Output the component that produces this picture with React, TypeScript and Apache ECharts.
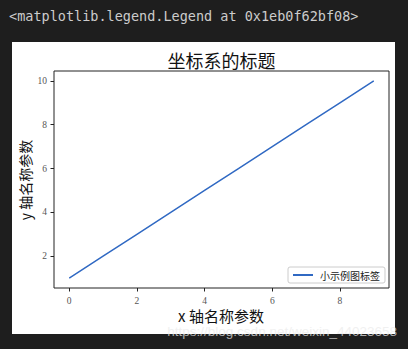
import React, { useEffect, useRef } from "react";
import * as echarts from "echarts";

// Series data: a straight line from (0, 1) to (9, 10)
const xValues = [0, 1, 2, 3, 4, 5, 6, 7, 8, 9];
const yValues = [1, 2, 3, 4, 5, 6, 7, 8, 9, 10];
const xTicks = [0, 2, 4, 6, 8];
const yTicks = [2, 4, 6, 8, 10];

const seriesName = "小示例图标签";
const titleText = "坐标系的标题";
const xName = "x 轴名称参数";
const yName = "y 轴名称参数";
const headerText = "<matplotlib.legend.Legend at 0x1eb0f62bf08>";
const watermark = "https://blog.csdn.net/weixin_44023658";

const CJK = '"Noto Sans CJK SC", "Noto Sans", sans-serif';
const SERIF = '"Liberation Serif", "DejaVu Serif", serif';

export default function App() {
  const ref = useRef<HTMLDivElement>(null);

  useEffect(() => {
    if (!ref.current) return;
    const chart = echarts.init(ref.current, null, { renderer: "svg" });

    const axisCommon = {
      type: "value" as const,
      axisLine: { show: false, onZero: false },
      splitLine: { show: false },
      axisTick: {
        show: true,
        inside: false,
        length: 3.5,
        lineStyle: { color: "#222", width: 1 },
      },
      axisLabel: {
        color: "#555",
        fontFamily: SERIF,
        fontSize: 9.5,
      },
    };

    chart.setOption({
      animation: false,
      backgroundColor: "#1e1e1e",
      graphic: [
        {
          type: "rect",
          shape: { x: 12, y: 42, width: 383, height: 292 },
          style: { fill: "#ffffff" },
          z: -10,
        },
        {
          type: "text",
          left: 9,
          top: 9,
          style: {
            text: headerText,
            fill: "#cccccc",
            font: '13.5px "DejaVu Sans Mono", monospace',
          },
        },
        {
          type: "text",
          x: 221.5,
          y: 60,
          style: {
            text: titleText,
            fill: "#111",
            font: `18px ${CJK}`,
            align: "center",
            verticalAlign: "middle",
          },
        },
        {
          type: "text",
          x: 221,
          y: 315,
          style: {
            text: xName,
            fill: "#111",
            font: `15px ${CJK}`,
            align: "center",
            verticalAlign: "middle",
          },
        },
        {
          type: "text",
          x: 25,
          y: 180,
          rotation: Math.PI / 2,
          style: {
            text: yName,
            fill: "#111",
            font: `14px ${CJK}`,
            align: "center",
            verticalAlign: "middle",
          },
        },
        {
          type: "text",
          x: 397,
          y: 331,
          z: 50,
          style: {
            text: watermark,
            fill: "rgba(235,235,235,0.72)",
            font: '13.5px "Liberation Sans", Arial, sans-serif',
            align: "right",
            verticalAlign: "middle",
          },
        },
      ],
      grid: {
        show: true,
        left: 54,
        top: 71,
        right: 19,
        bottom: 61,
        borderColor: "#222",
        borderWidth: 1,
        backgroundColor: "transparent",
      },
      legend: {
        left: 288,
        top: 267,
        width: 96,
        padding: [3, 5, 3, 5],
        borderColor: "#cccccc",
        borderWidth: 1,
        borderRadius: 2,
        backgroundColor: "#fff",
        itemWidth: 20,
        itemHeight: 2,
        itemGap: 4,
        icon: "rect",
        textStyle: { fontFamily: CJK, fontSize: 10, color: "#222", padding: [0, 0, 0, 2] },
        data: [seriesName],
      },
      xAxis: {
        ...axisCommon,
        min: -0.45,
        max: 9.45,
        axisTick: { ...axisCommon.axisTick, customValues: xTicks },
        axisLabel: { ...axisCommon.axisLabel, customValues: xTicks, margin: 8 },
      },
      yAxis: {
        ...axisCommon,
        min: 0.55,
        max: 10.45,
        axisTick: { ...axisCommon.axisTick, customValues: yTicks },
        axisLabel: { ...axisCommon.axisLabel, customValues: yTicks, margin: 7 },
      },
      series: [
        {
          name: seriesName,
          type: "line",
          data: xValues.map((x, i) => [x, yValues[i]]),
          showSymbol: false,
          symbol: "none",
          itemStyle: { color: "#3069c3" },
          lineStyle: { color: "#3069c3", width: 1.5 },
        },
      ],
    });

    return () => chart.dispose();
  }, []);

  return (
    <div
      ref={ref}
      style={{ position: "fixed", left: 0, top: 0, width: 408, height: 349 }}
    />
  );
}
